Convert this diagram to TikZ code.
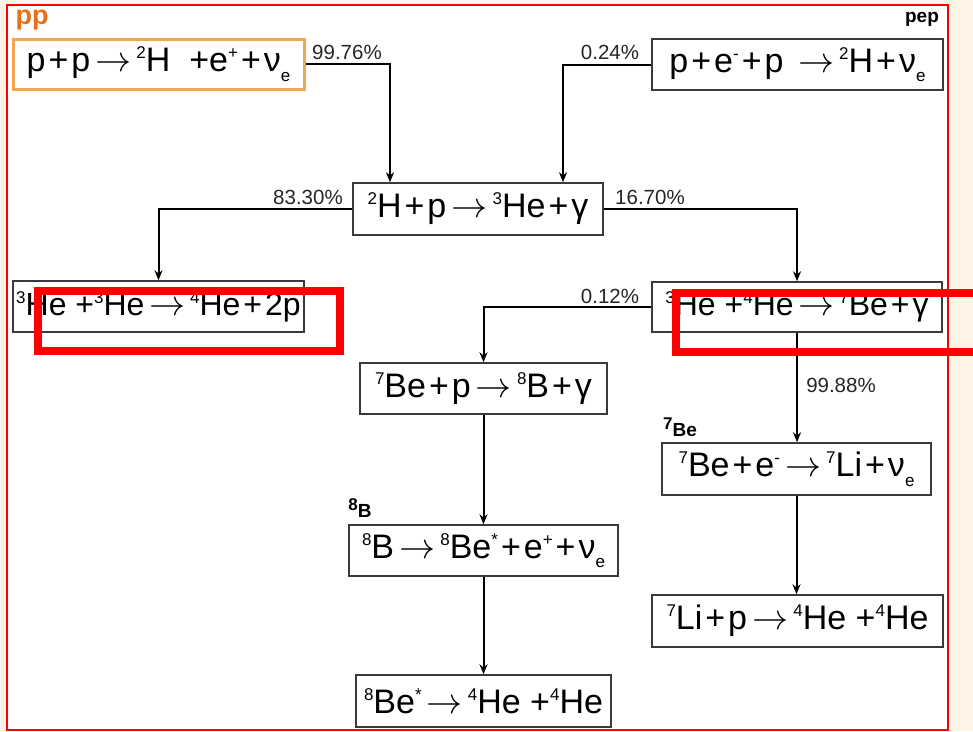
\documentclass[tikz,border=0pt]{standalone}
\usepackage{fontspec}
\usepackage{graphicx}
\setmainfont{Liberation Sans}
\usetikzlibrary{arrows.meta,calc}
\definecolor{cream}{HTML}{FDF4E6}
\definecolor{boxline}{HTML}{3A3A3A}
\definecolor{ppbox}{HTML}{F2A553}
\definecolor{pporange}{HTML}{E8701A}
\newcommand\up[1]{\raisebox{0.38em}{\fontsize{17}{17}\selectfont #1}}
\newcommand\dn[1]{\raisebox{-0.28em}{\fontsize{17}{17}\selectfont #1}}
\newcommand\pl{\kern3pt+\kern3pt}
\newcommand\ra{\hspace{0.15em}\resizebox{36pt}{!}{$\rightarrow$}\hspace{0.15em}}
\newcommand\nue{ν\dn{e}}
\begin{document}
\begin{tikzpicture}[x=1pt,y=-1pt,
  box/.style={draw=boxline, line width=1.5pt, fill=white, inner sep=0pt,
    font=\fontsize{34}{40}\selectfont},
  conn/.style={draw=black, line width=2pt, -{Stealth[length=10pt,width=8pt]}},
  pct/.style={font=\fontsize{20.5}{24}\selectfont, inner sep=0pt, text=black!85},
  tag/.style={font=\bfseries\fontsize{19}{22}\selectfont, inner sep=0pt},
  hilite/.style={draw=red, line width=8pt}]
\useasboundingbox (0,0) rectangle (973,731);
\fill[cream] (0,0) rectangle (973,731);
\fill[white] (7,5) rectangle (948,730);
\draw[red, line width=1.8pt] (7,5) rectangle (948,730);

% boxes
\node[box, draw=ppbox, line width=3pt, minimum width=291, minimum height=50] (pp) at (158.5,64)
  {p\pl p\ra\up{2}H \ +e\up{+}\pl\nue};
\node[box, minimum width=291, minimum height=51] (pep) at (797.5,64.5)
  {p\pl e\up{-}\pl p \ra\up{2}H\pl\nue};
\node[box, minimum width=250, minimum height=52] (dh) at (478,209)
  {\up{2}H\pl p\ra\up{3}He\pl γ};
\node[box, font=\fontsize{32}{40}\selectfont, minimum width=291, minimum height=51] (he33) at (158.5,306.5)
  {\up{3}He +\up{3}He\ra\up{4}He\pl 2p};
\node[box, font=\fontsize{32}{40}\selectfont, minimum width=290, minimum height=50] (he34) at (797,307)
  {\up{3}He +\up{4}He\ra\up{7}Be\pl γ};
\node[box, minimum width=247, minimum height=51] (be7p) at (483.5,388.5)
  {\up{7}Be\pl p\ra\up{8}B\pl γ};
\node[box, minimum width=269, minimum height=52] (be7e) at (796.5,469)
  {\up{7}Be\pl e\up{-}\ra\up{7}Li\pl\nue};
\node[box, minimum width=269, minimum height=51] (b8) at (483.5,550.5)
  {\up{8}B\ra\up{8}Be\up{*}\pl e\up{+}\pl\nue};
\node[box, minimum width=291, minimum height=52] (li7) at (797.5,621)
  {\up{7}Li\pl p\ra\up{4}He +\up{4}He};
\node[box, minimum width=255, minimum height=52] (be8) at (483.5,701)
  {\up{8}Be\up{*}\ra\up{4}He +\up{4}He};

% connectors
\draw[conn] (pp.east) -| ([xshift=-88pt]dh.north);
\draw[conn] (pep.west) -| ([xshift=85pt]dh.north);
\draw[conn] (dh.west) -| (he33.north);
\draw[conn] (dh.east) -| (he34.north);
\draw[conn] (he34.west) -| (be7p.north);
\draw[conn] (he34.south) -- (he34.south |- be7e.north);
\draw[conn] (be7e.south) -- (be7e.south |- li7.north);
\draw[conn] (be7p.south) -- (be7p.south |- b8.north);
\draw[conn] (b8.south) -- (b8.south |- be8.north);

% percentages
\node[pct] (p1) at (347,52) {99.76\%};
\node[pct] (p2) at (610,52) {0.24\%};
\node[pct] (p3) at (308,197) {83.30\%};
\node[pct] (p4) at (650,197) {16.70\%};
\node[pct] (p5) at (610,296) {0.12\%};
\node[pct] (p6) at (841,385) {99.88\%};

% tags
\node[tag, font=\bfseries\fontsize{27}{28}\selectfont, text=pporange] (tpp) at (32,20) {pp};
\node[tag] (tpep) at (922,19) {pep};
\node[tag] (tbe) at (680,427) {\up{7}Be};
\node[tag] (tb) at (360,508) {\up{8}B};

% highlight rectangles
\draw[hilite] (38.3,290.5) rectangle (340,351);
\draw[hilite] (676,292.5) rectangle (995,351.7);
\end{tikzpicture}
\end{document}
